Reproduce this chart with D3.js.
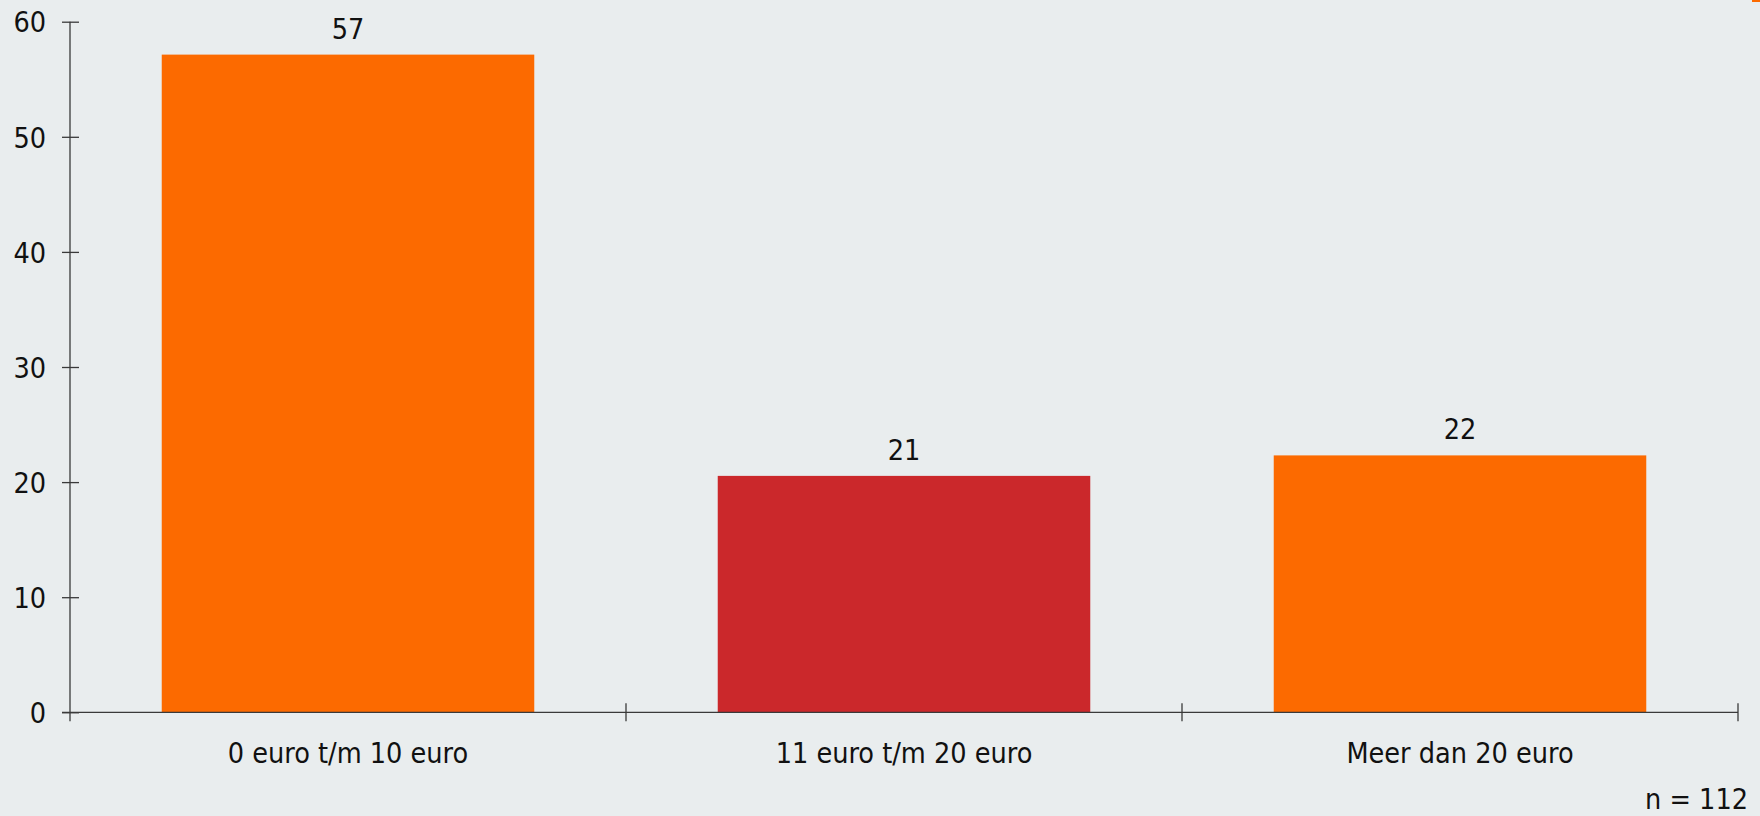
<!DOCTYPE html>
<html>
<head>
<meta charset="utf-8">
<script src="https://cdn.jsdelivr.net/npm/d3@7"></script>
<style>
  html, body { margin: 0; padding: 0; background: #e9edee; }
  svg { display: block; }
  text { font-family: "DejaVu Sans Condensed", "DejaVu Sans", sans-serif; font-stretch: condensed; fill: #111; }
</style>
</head>
<body>
<svg id="chart" width="1760" height="816"></svg>
<script>
const categories = ["0 euro t/m 10 euro", "11 euro t/m 20 euro", "Meer dan 20 euro"];
const values = [57.14, 20.54, 22.32];
const valueLabels = ["57", "21", "22"];
const barColors = ["#fc6a00", "#cb282b", "#fc6a00"];
const yTicks = [0, 10, 20, 30, 40, 50, 60];
const footnote = "n = 112";

const svg = d3.select("#chart");
const W = 1760, H = 816;
const plotLeft = 70, plotRight = 1738, plotTop = 21.7, plotBottom = 712.3;
const fontSize = 28.5;
const axisColor = "#3a3a3a";

svg.append("rect").attr("width", W).attr("height", H).attr("fill", "#e9edee");

const x = d3.scaleBand().domain(categories).range([plotLeft, plotRight])
  .paddingInner(0.33).paddingOuter(0.165);
const y = d3.scaleLinear().domain([0, 60]).range([plotBottom, plotTop]);

// bars
svg.append("g").selectAll("rect").data(categories).join("rect")
  .attr("x", d => x(d))
  .attr("y", (d, i) => y(values[i]))
  .attr("width", x.bandwidth())
  .attr("height", (d, i) => y(0) - y(values[i]))
  .attr("fill", (d, i) => barColors[i]);

// value labels
svg.append("g").selectAll("text").data(categories).join("text")
  .attr("x", d => x(d) + x.bandwidth() / 2)
  .attr("y", (d, i) => y(values[i]) - 16)
  .attr("text-anchor", "middle")
  .attr("font-size", fontSize)
  .text((d, i) => valueLabels[i]);

// y axis
const yAxis = d3.axisLeft(y).tickValues(yTicks).tickSize(0).tickPadding(0);
const gy = svg.append("g").attr("transform", `translate(${plotLeft},0)`).call(yAxis);
gy.attr("font-family", null).attr("font-size", null);
gy.select(".domain").remove();
gy.selectAll(".tick text")
  .attr("x", -24)
  .attr("dy", "0.36em")
  .attr("font-size", fontSize);
gy.selectAll(".tick line").remove();
gy.selectAll(".tick").append("line")
  .attr("x1", -8).attr("x2", 9)
  .attr("stroke", axisColor).attr("stroke-width", 1.3);
gy.append("line")
  .attr("x1", 0).attr("x2", 0)
  .attr("y1", y(60)).attr("y2", y(0) + 9)
  .attr("stroke", axisColor).attr("stroke-width", 1.3);

// x axis
const step = x.step();
const boundaries = categories.map(c => x(c) + x.bandwidth() + step * x.paddingInner() / 2);
const gx = svg.append("g");
gx.append("line")
  .attr("x1", plotLeft - 8).attr("x2", plotRight)
  .attr("y1", y(0)).attr("y2", y(0))
  .attr("stroke", axisColor).attr("stroke-width", 1.3);
gx.selectAll("line.tk").data(boundaries).join("line")
  .attr("class", "tk")
  .attr("x1", d => d).attr("x2", d => d)
  .attr("y1", y(0) - 9).attr("y2", y(0) + 9)
  .attr("stroke", axisColor).attr("stroke-width", 1.3);
gx.selectAll("text").data(categories).join("text")
  .attr("x", d => x(d) + x.bandwidth() / 2)
  .attr("y", y(0) + 51)
  .attr("text-anchor", "middle")
  .attr("font-size", fontSize)
  .text(d => d);

// footnote
svg.append("text")
  .attr("x", 1748).attr("y", 809)
  .attr("text-anchor", "end")
  .attr("font-size", fontSize)
  .text(footnote);

// small corner mark
svg.append("rect").attr("x", 1752).attr("y", 0).attr("width", 8).attr("height", 2).attr("fill", "#fc6a00");
</script>
</body>
</html>
